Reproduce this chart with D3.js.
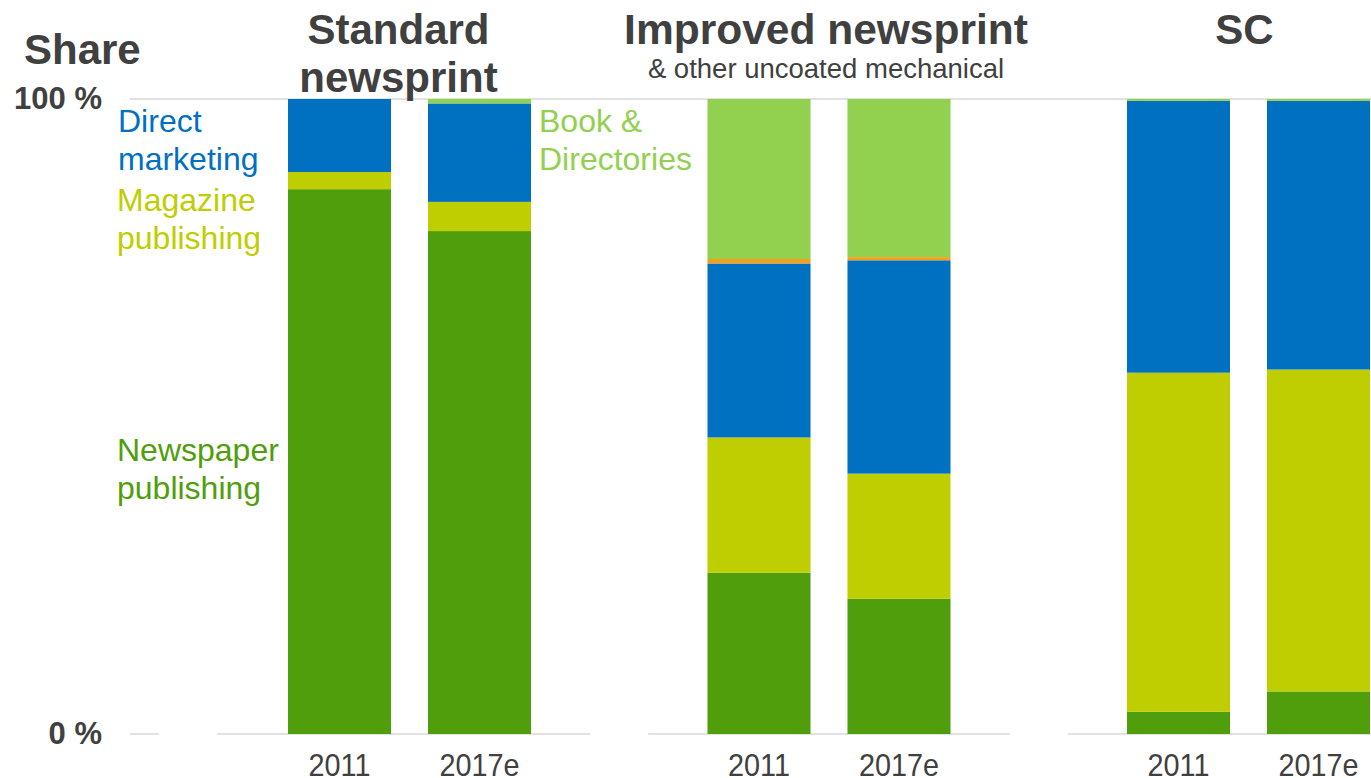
<!DOCTYPE html>
<html>
<head>
<meta charset="utf-8">
<script src="https://cdn.jsdelivr.net/npm/d3@7"></script>
<style>
  html, body { margin: 0; padding: 0; background: #fff; }
  svg { display: block; font-family: "Liberation Sans", Arial, sans-serif; }
</style>
</head>
<body>
<svg id="chart" width="1371" height="778"></svg>
<script>
// Paper grades and the two years shown for each
const panels = ["Standard newsprint", "Improved newsprint", "SC"];
const years = ["2011", "2017e"];

// End-use shares (%) per bar, in order: grade × year
const newspaper = [85.8, 79.2, 25.4, 21.3, 3.5, 6.7];
const magazine  = [2.7, 4.6, 21.3, 19.7, 53.4, 50.7];
const direct    = [11.5, 15.5, 27.4, 33.6, 42.8, 42.3];
const other     = [0, 0, 0.7, 0.5, 0, 0];
const book      = [0, 0.7, 25.2, 24.9, 0.3, 0.3];

const yTicks = [0, 100];
const yTickLabels = ["0 %", "100 %"];

const seriesKeys = ["newspaper", "magazine", "direct", "other", "book"];
const colors = {
  newspaper: "#509E0C",
  magazine: "#BFCE00",
  direct: "#0070C0",
  other: "#F5A01A",
  book: "#92D050"
};

// Build rows for the stack layout
const rows = [];
panels.forEach((p, i) => {
  years.forEach((yr, j) => {
    const k = i * years.length + j;
    rows.push({
      panel: p, year: yr,
      newspaper: newspaper[k], magazine: magazine[k], direct: direct[k],
      other: other[k], book: book[k]
    });
  });
});

const svg = d3.select("#chart");
const ink = "#404040";
const gridColor = "#E2E2E2";

const y = d3.scaleLinear().domain([0, 100]).range([734, 99]);
const x0 = d3.scaleBand().domain(panels).range([288, 1370]).paddingInner(0.4207).paddingOuter(0);
const x1 = d3.scaleBand().domain(years).range([0, x0.bandwidth()]).paddingInner(0.264).paddingOuter(0);

// Top reference line at 100 %
svg.append("line")
  .attr("x1", 130).attr("x2", 1371)
  .attr("y1", y(100)).attr("y2", y(100))
  .attr("stroke", gridColor).attr("stroke-width", 2);

// Baseline, broken between grades
const gapHalf = 29;
const gaps = [x0(panels[0]) - 100];
for (let i = 1; i < panels.length; i++) {
  gaps.push((x0(panels[i - 1]) + x0.bandwidth() + x0(panels[i])) / 2);
}
const segs = [];
let start = 130;
gaps.forEach(g => { segs.push([start, g - gapHalf]); start = g + gapHalf; });
segs.push([start, 1371]);
svg.append("g").selectAll("line").data(segs).join("line")
  .attr("x1", d => d[0]).attr("x2", d => d[1])
  .attr("y1", y(0)).attr("y2", y(0))
  .attr("stroke", gridColor).attr("stroke-width", 2);

// Stacked bars
const stacked = d3.stack().keys(seriesKeys)(rows);
svg.append("g").selectAll("g").data(stacked).join("g")
  .attr("fill", d => colors[d.key])
  .selectAll("rect").data(d => d).join("rect")
    .attr("x", d => x0(d.data.panel) + x1(d.data.year))
    .attr("width", x1.bandwidth())
    .attr("y", d => y(d[1]))
    .attr("height", d => Math.max(0, y(d[0]) - y(d[1])));

// Year labels under bars
const yearLabels = svg.append("g");
rows.forEach(r => {
  const cx = x0(r.panel) + x1(r.year) + x1.bandwidth() / 2;
  yearLabels.append("text")
    .attr("transform", `translate(${cx},776) scale(0.9,1)`)
    .attr("text-anchor", "middle")
    .attr("font-size", 32)
    .attr("fill", ink)
    .text(r.year);
});

// Y tick labels
svg.append("g").selectAll("text").data(yTicks).join("text")
  .attr("x", 102)
  .attr("y", d => y(d) + 10)
  .attr("text-anchor", "end")
  .attr("font-size", 31)
  .attr("font-weight", "bold")
  .attr("fill", ink)
  .text((d, i) => yTickLabels[i]);

// Axis title
svg.append("text")
  .attr("x", 24).attr("y", 64)
  .attr("font-size", 42).attr("font-weight", "bold")
  .attr("fill", ink)
  .text("Share");

// Grade titles
const titleX = p => x0(p) + x0.bandwidth() / 2;
const t1 = svg.append("text")
  .attr("text-anchor", "middle")
  .attr("font-size", 42).attr("font-weight", "bold").attr("fill", ink);
t1.append("tspan").attr("x", titleX(panels[0]) - 11).attr("y", 44).text("Standard");
t1.append("tspan").attr("x", titleX(panels[0]) - 11).attr("y", 92).text("newsprint");

svg.append("text")
  .attr("x", titleX(panels[1]) - 3).attr("y", 44)
  .attr("text-anchor", "middle")
  .attr("font-size", 42.5).attr("font-weight", "bold").attr("fill", ink)
  .text("Improved newsprint");
svg.append("text")
  .attr("x", titleX(panels[1]) - 3).attr("y", 78)
  .attr("text-anchor", "middle")
  .attr("font-size", 27.5).attr("fill", ink)
  .text("& other uncoated mechanical");

svg.append("text")
  .attr("x", titleX(panels[2]) - 4).attr("y", 44)
  .attr("text-anchor", "middle")
  .attr("font-size", 42).attr("font-weight", "bold").attr("fill", ink)
  .text("SC");

// Series labels
const legend = [
  { key: "direct", x: 118, y: 132, lines: ["Direct", "marketing"] },
  { key: "magazine", x: 117, y: 211, lines: ["Magazine", "publishing"] },
  { key: "newspaper", x: 117, y: 461, lines: ["Newspaper", "publishing"] },
  { key: "book", x: 539, y: 132, lines: ["Book &", "Directories"] }
];
legend.forEach(l => {
  const t = svg.append("text")
    .attr("font-size", 32)
    .attr("fill", colors[l.key]);
  l.lines.forEach((s, i) => {
    t.append("tspan").attr("x", l.x).attr("y", l.y + i * 38).text(s);
  });
});

// Source note at the bottom edge
svg.append("text")
  .attr("x", 0).attr("y", 791)
  .attr("font-size", 16).attr("fill", "#888")
  .text("IDX");
</script>
</body>
</html>
